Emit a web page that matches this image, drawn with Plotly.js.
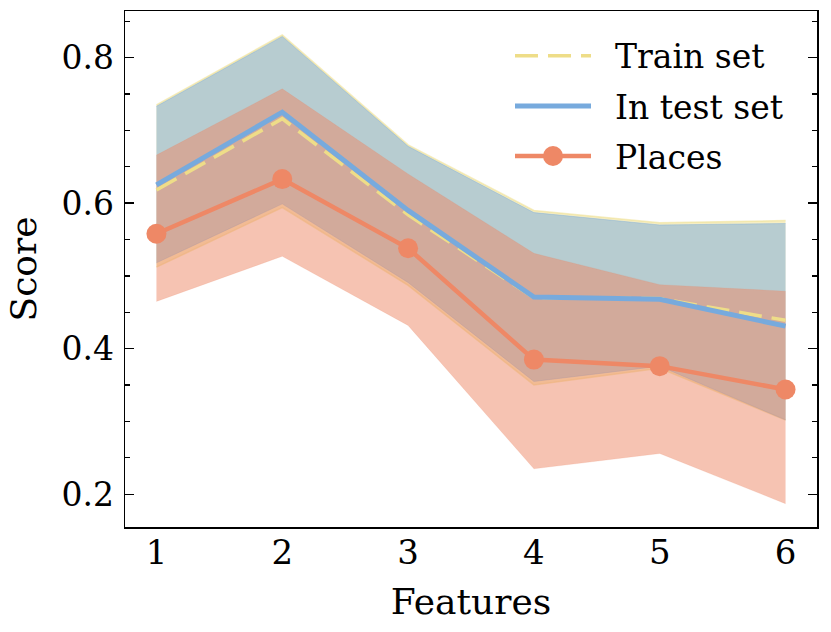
<!DOCTYPE html>
<html>
<head>
<meta charset="utf-8">
<script src="https://cdn.plot.ly/plotly-3.0.1.min.js"></script>
<style>html,body{margin:0;padding:0;background:#fff;}#chart{width:831px;height:632px;}</style>
</head>
<body>
<div id="chart"></div>
<script>
// ---- data ----
const features = [1, 2, 3, 4, 5, 6];
const trainMean  = [0.618, 0.716, 0.584, 0.470, 0.469, 0.439];
const trainUpper = [0.735, 0.831, 0.680, 0.590, 0.573, 0.576];
const trainLower = [0.512, 0.594, 0.487, 0.350, 0.373, 0.302];
const testMean   = [0.625, 0.725, 0.590, 0.471, 0.468, 0.431];
const testUpper  = [0.733, 0.829, 0.678, 0.587, 0.570, 0.572];
const testLower  = [0.518, 0.599, 0.491, 0.355, 0.376, 0.302];
const placesMean  = [0.558, 0.633, 0.538, 0.385, 0.376, 0.344];
const placesUpper = [0.666, 0.757, 0.640, 0.531, 0.488, 0.479];
const placesLower = [0.465, 0.527, 0.432, 0.235, 0.256, 0.187];
const seriesNames = ['Train set', 'In test set', 'Places'];
const yTickVals = [0.2, 0.4, 0.6, 0.8];

// ---- styles ----
const YEL = '#EEDD88', BLU = '#77AADD', ORA = '#EE8866';
const YELa = 'rgba(238,221,136,0.5)', BLUa = 'rgba(119,170,221,0.5)', ORAa = 'rgba(238,136,102,0.5)';
const FONT = 'DejaVu Serif';

function band(lower, upper, col, ew) {
  return [
    {x: features, y: lower, mode: 'lines', line: {color: col, width: ew}, showlegend: false, hoverinfo: 'skip'},
    {x: features, y: upper, mode: 'lines', fill: 'tonexty', fillcolor: col, line: {color: col, width: ew}, showlegend: false, hoverinfo: 'skip'}
  ];
}

const data = [
  ...band(trainLower, trainUpper, YELa, 1.5),
  ...band(testLower, testUpper, BLUa, 0.8),
  ...band(placesLower, placesUpper, ORAa, 0.3),
  {x: features, y: trainMean, name: seriesNames[0], mode: 'lines', line: {color: YEL, width: 3.5, dash: '23px,10px'}, showlegend: false},
  {x: features, y: testMean, name: seriesNames[1], mode: 'lines', line: {color: BLU, width: 5}, showlegend: false},
  {x: features, y: placesMean, name: seriesNames[2], mode: 'lines+markers', line: {color: ORA, width: 4.5}, marker: {color: ORA, size: 20}, showlegend: false}
];

// custom legend (paper coords of plot area)
const L = 125, R = 817, T = 11, B = 527;
const px = v => (v - L) / (R - L);
const py = v => 1 - (v - T) / (B - T);
const rows = [55.7, 106, 156];
const legStyles = [
  {color: YEL, width: 3.5, dash: '23px,10px'},
  {color: BLU, width: 5},
  {color: ORA, width: 4.5}
];
const shapes = [];
const annotations = [];
rows.forEach((ry, i) => {
  shapes.push({type: 'line', xref: 'paper', yref: 'paper', x0: px(515), x1: px(591), y0: py(ry), y1: py(ry), line: legStyles[i]});
  annotations.push({xref: 'paper', yref: 'paper', x: px(613), y: py(ry + 1), xanchor: 'left', yanchor: 'middle', showarrow: false,
    text: seriesNames[i], font: {family: FONT, size: 33, color: '#000'}});
});
shapes.push({type: 'circle', xref: 'paper', yref: 'paper', xsizemode: 'pixel', ysizemode: 'pixel',
  xanchor: px(553), yanchor: py(rows[2]), x0: -10, x1: 10, y0: -10, y1: 10, fillcolor: ORA, line: {width: 0}});

const layout = {
  width: 831, height: 632,
  margin: {l: L, r: 831 - R, t: T, b: 632 - B, pad: 0},
  paper_bgcolor: '#fff', plot_bgcolor: '#fff',
  font: {family: FONT, size: 33, color: '#000'},
  showlegend: false,
  xaxis: {
    range: [0.75, 6.25], tickvals: features, ticktext: features.map(String),
    showgrid: false, zeroline: false, showline: true, mirror: true, linecolor: '#000', linewidth: 1.5,
    ticks: '', tickfont: {size: 34}, ticklabelstandoff: -5,
    title: {text: 'Features', font: {size: 36}, standoff: 17}
  },
  yaxis: {
    range: [0.155, 0.864], tickvals: yTickVals, ticktext: yTickVals.map(v => v.toFixed(1)),
    showgrid: false, zeroline: false, showline: true, mirror: 'allticks', linecolor: '#000', linewidth: 1.5,
    ticks: 'inside', ticklen: 9, tickwidth: 1.5, tickcolor: '#000', tickfont: {size: 33}, ticklabelstandoff: 3,
    minor: {dtick: 0.05, tick0: 0.2, ticks: 'inside', ticklen: 5, tickwidth: 1.2, tickcolor: '#000', showgrid: false},
    title: {text: 'Score', font: {size: 36}, standoff: 14}
  },
  shapes: shapes,
  annotations: annotations
};

Plotly.newPlot('chart', data, layout, {displayModeBar: false, staticPlot: true});
</script>
</body>
</html>
